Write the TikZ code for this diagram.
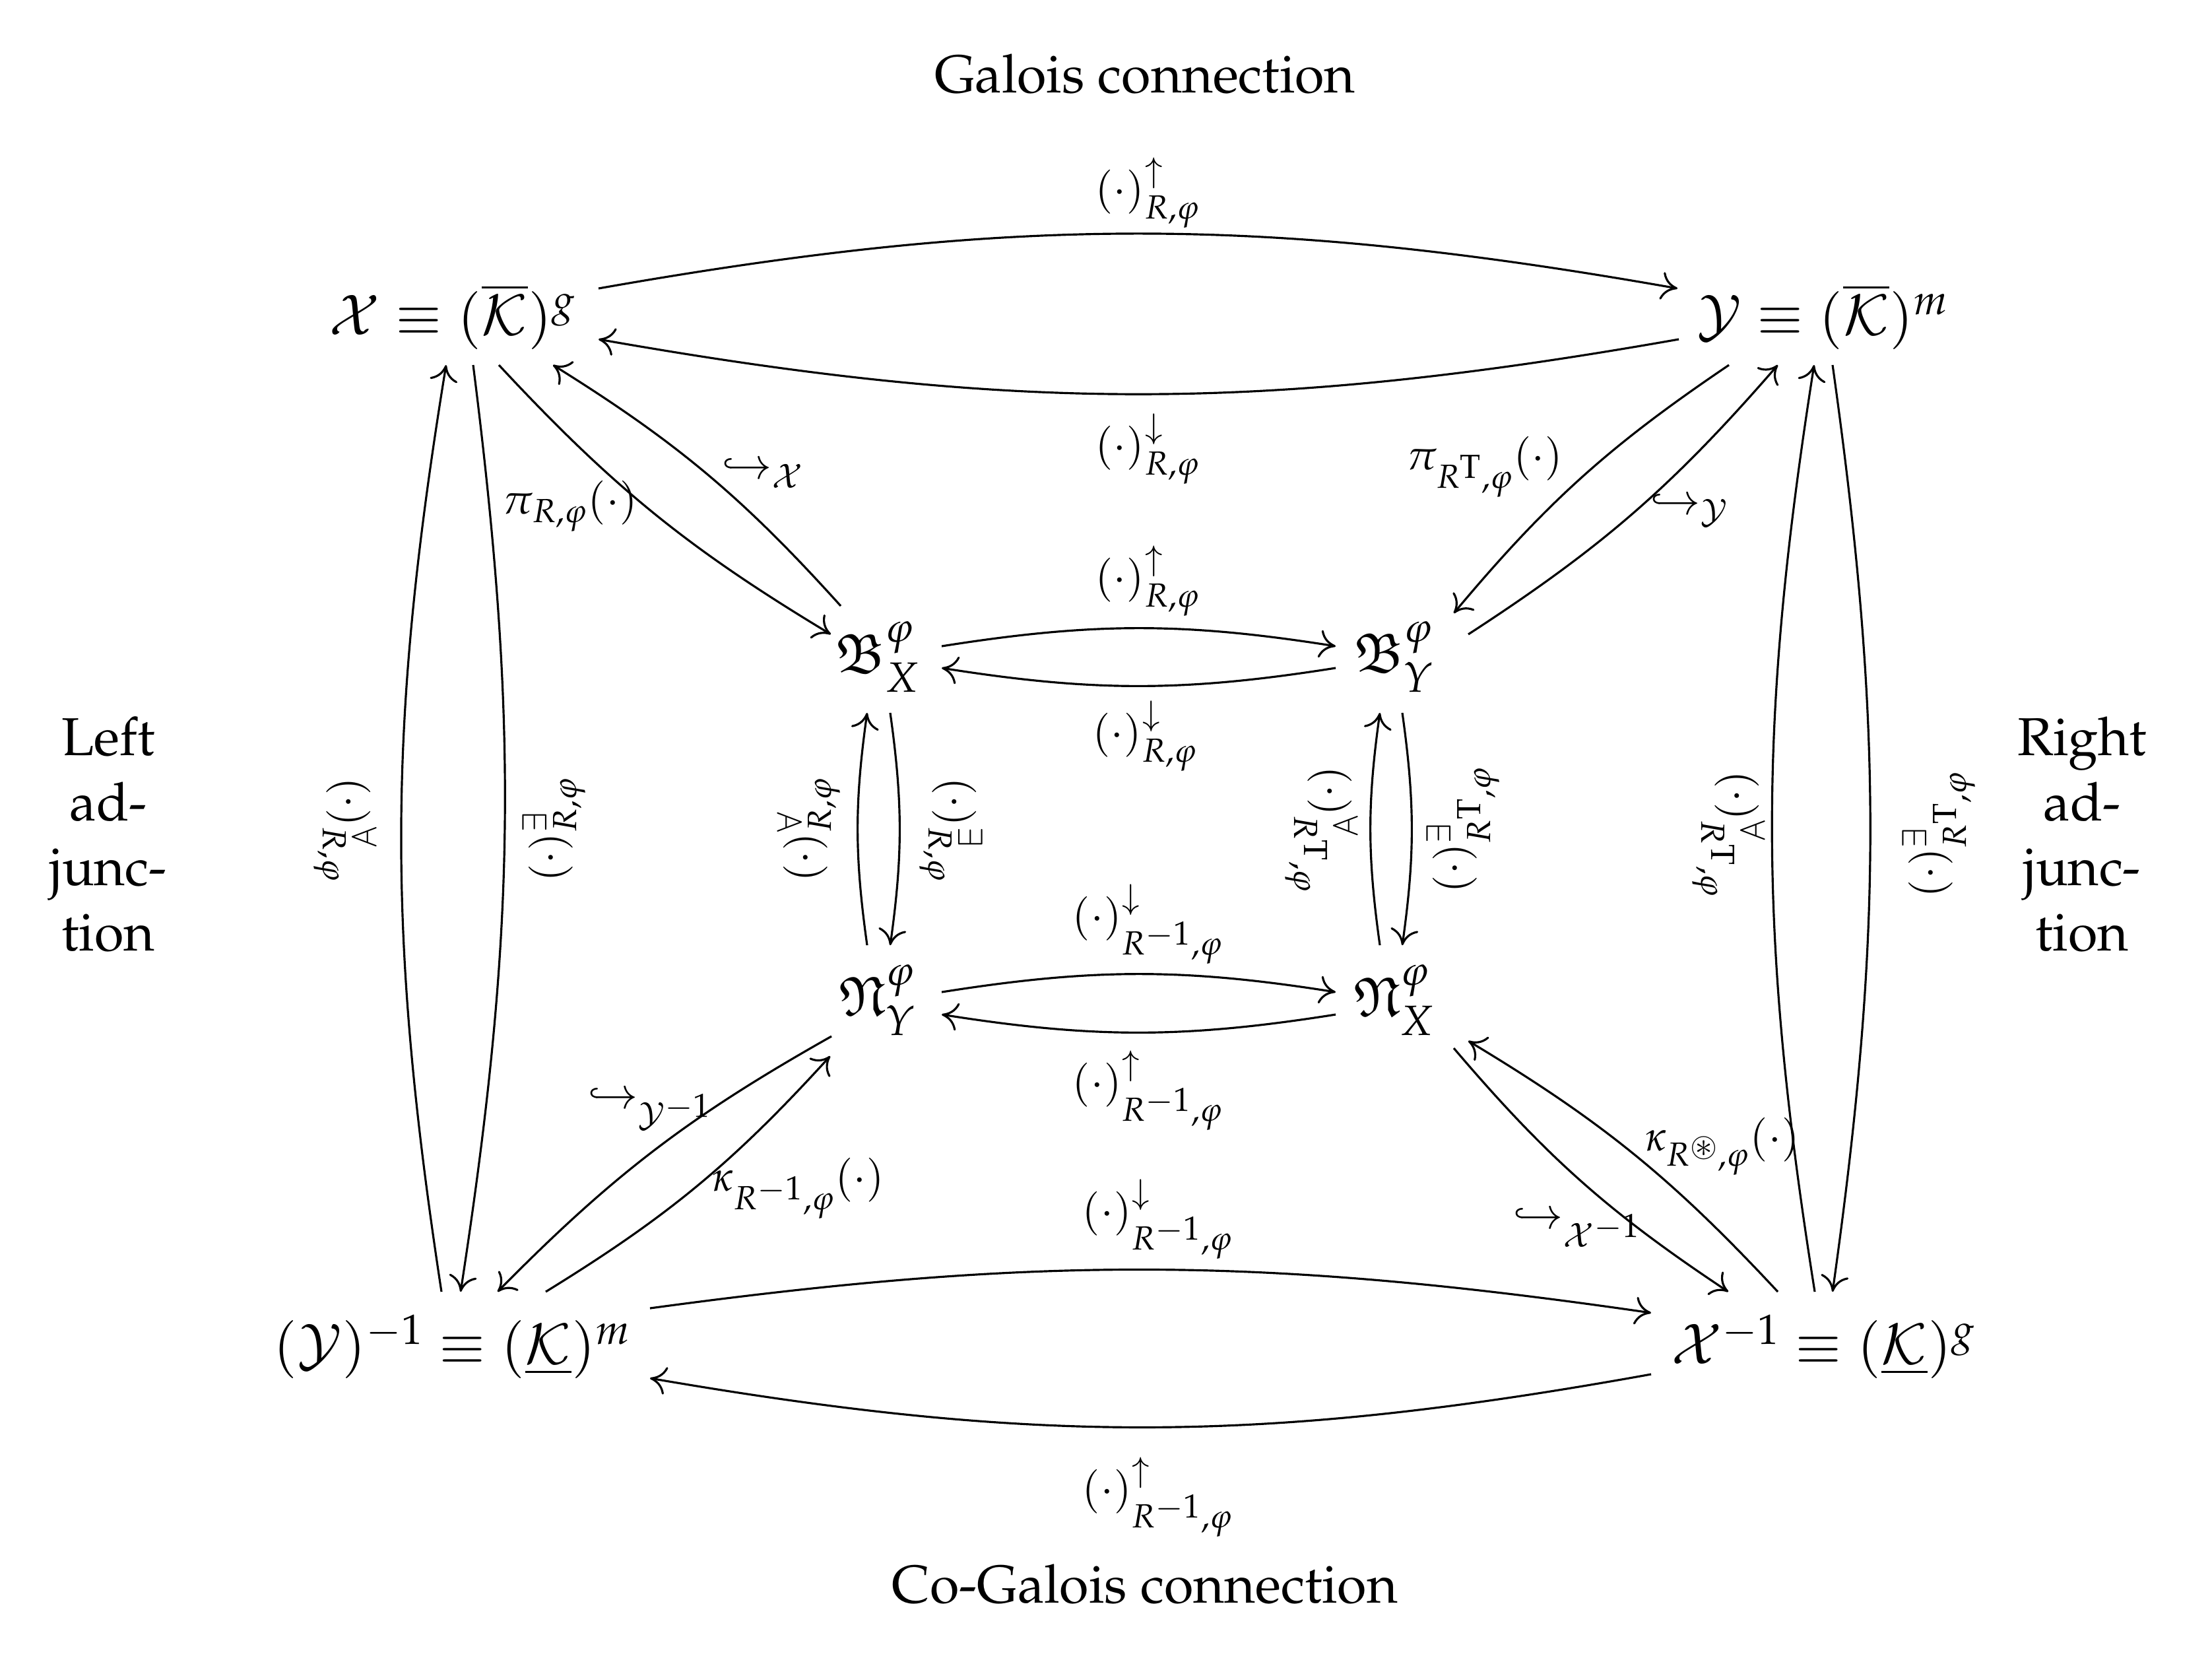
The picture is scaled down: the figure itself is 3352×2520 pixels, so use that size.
\documentclass[tikz,border=0pt]{standalone}
\usepackage[T1]{fontenc}
\usepackage{mathpazo}
\usepackage{amssymb}
\usetikzlibrary{arrows.meta}
\begin{document}
\begin{tikzpicture}[x=0.01cm,y=-0.01cm,
  every node/.style={font=\fontsize{24}{29}\selectfont, inner sep=0pt},
  obj/.style={},
  lbl/.style={},
  ttl/.style={font=\fontsize{23}{28}\selectfont, align=center},
  arr/.style={-{To[length=7pt,width=12pt]}, line width=0.9pt},
]
\useasboundingbox (0,0) rectangle (3352,2520);
% objects
\node[obj] (X) at (686,480) {$\mathcal{X}\equiv(\overline{\mathcal{K}})^{g}$};
\node[obj] (Y) at (2762,480) {$\mathcal{Y}\equiv(\overline{\mathcal{K}})^{m}$};
\node[obj] (BL) at (685,2040) {$(\mathcal{Y})^{-1}\equiv(\underline{\mathcal{K}})^{m}$};
\node[obj] (BR) at (2763,2040) {$\mathcal{X}^{-1}\equiv(\underline{\mathcal{K}})^{g}$};
\node[obj] (BX) at (1330,995) {$\mathfrak{B}_X^{\varphi}$};
\node[obj] (BY) at (2113,995) {$\mathfrak{B}_Y^{\varphi}$};
\node[obj] (NY) at (1330,1515) {$\mathfrak{N}_Y^{\varphi}$};
\node[obj] (NX) at (2113,1515) {$\mathfrak{N}_X^{\varphi}$};
% titles
\node[ttl] (t1) at (1735,112) {Galois connection};
\node[ttl] (t2) at (1735,2400) {Co-Galois connection};
\node[ttl] (t3) at (164,1264) {Left\\ad-\\junc-\\tion};
\node[ttl] (t4) at (3155,1264) {Right\\ad-\\junc-\\tion};
% top pair
\draw[arr] ([shift={(221,-43)}]X.center) to[bend left=10] ([shift={(-220,-43)}]Y.center);
\draw[arr] ([shift={(-218,34)}]Y.center) to[bend left=10] ([shift={(221,34)}]X.center);
% bottom pair
\draw[arr] ([shift={(300,-58)}]BL.center) to[bend left=8] ([shift={(-261,-51)}]BR.center);
\draw[arr] ([shift={(-261,42)}]BR.center) to[bend left=10] ([shift={(300,48)}]BL.center);
% outer left verticals
\draw[arr] ([shift={(-16,-83)}]BL.center) to[bend left=9] ([shift={(-10,73)}]X.center);
\draw[arr] ([shift={(31,73)}]X.center) to[bend left=8] ([shift={(13,-83)}]BL.center);
% outer right verticals
\draw[arr] ([shift={(-13,-83)}]BR.center) to[bend left=9] ([shift={(-13,73)}]Y.center);
\draw[arr] ([shift={(15,73)}]Y.center) to[bend left=8] ([shift={(14,-83)}]BR.center);
% inner horizontals
\draw[arr] ([shift={(97,-16)}]BX.center) to[bend left=9] ([shift={(-89,-16)}]BY.center);
\draw[arr] ([shift={(-89,17)}]BY.center) to[bend left=9] ([shift={(97,17)}]BX.center);
\draw[arr] ([shift={(97,-12)}]NY.center) to[bend left=9] ([shift={(-89,-12)}]NX.center);
\draw[arr] ([shift={(-89,22)}]NX.center) to[bend left=9] ([shift={(97,22)}]NY.center);
% inner verticals
\draw[arr] ([shift={(-16,-83)}]NY.center) to[bend left=8] ([shift={(-16,85)}]BX.center);
\draw[arr] ([shift={(19,85)}]BX.center) to[bend left=8] ([shift={(19,-83)}]NY.center);
\draw[arr] ([shift={(-22,-83)}]NX.center) to[bend left=8] ([shift={(-22,85)}]BY.center);
\draw[arr] ([shift={(12,85)}]BY.center) to[bend left=8] ([shift={(12,-83)}]NX.center);
% diagonals
\draw[arr] ([shift={(70,73)}]X.center) to[bend right=8] ([shift={(-71,-34)}]BX.center);
\draw[arr] ([shift={(-56,-77)}]BX.center) to[bend right=8] ([shift={(152,73)}]X.center);
\draw[arr] ([shift={(-142,73)}]Y.center) to[bend right=8] ([shift={(90,-66)}]BY.center);
\draw[arr] ([shift={(112,-34)}]BY.center) to[bend right=8] ([shift={(-68,73)}]Y.center);
\draw[arr] ([shift={(-70,55)}]NY.center) to[bend right=8] ([shift={(69,-83)}]BL.center);
\draw[arr] ([shift={(142,-83)}]BL.center) to[bend right=8] ([shift={(-72,85)}]NY.center);
\draw[arr] ([shift={(90,73)}]NX.center) to[bend right=8] ([shift={(-144,-83)}]BR.center);
\draw[arr] ([shift={(-69,-83)}]BR.center) to[bend right=8] ([shift={(112,62)}]NX.center);
% labels
\node[lbl] (l1) at (1739,292) {$\scriptstyle(\cdot)^{\uparrow}_{R,\varphi}$};
\node[lbl] (l2) at (1739,680) {$\scriptstyle(\cdot)^{\downarrow}_{R,\varphi}$};
\node[lbl] (l3) at (864,767) {$\scriptstyle\pi_{R,\varphi}(\cdot)$};
\node[lbl] (l4) at (1156,717) {$\scriptstyle\hookrightarrow_{\mathcal{X}}$};
\node[lbl] (l5) at (2250,707) {$\scriptstyle\pi_{R^{\mathrm{T}},\varphi}(\cdot)$};
\node[lbl] (l6) at (2560,773) {$\scriptstyle\hookrightarrow_{\mathcal{Y}}$};
\node[lbl] (l7) at (1739,880) {$\scriptstyle(\cdot)^{\uparrow}_{R,\varphi}$};
\node[lbl] (l8) at (1735,1115) {$\scriptstyle(\cdot)^{\downarrow}_{R,\varphi}$};
\node[lbl,rotate=90] (l9) at (1226,1257) {$\scriptstyle(\cdot)^{\forall}_{R,\varphi}$};
\node[lbl,rotate=-90] (l10) at (1441,1257) {$\scriptstyle(\cdot)^{\exists}_{R,\varphi}$};
\node[lbl,rotate=-90] (l11) at (2003,1257) {$\scriptstyle(\cdot)^{\forall}_{R^{\mathrm{T}},\varphi}$};
\node[lbl,rotate=90] (l12) at (2217,1257) {$\scriptstyle(\cdot)^{\exists}_{R^{\mathrm{T}},\varphi}$};
\node[lbl,rotate=-90] (l13) at (523,1257) {$\scriptstyle(\cdot)^{\forall}_{R,\varphi}$};
\node[lbl,rotate=90] (l14) at (840,1257) {$\scriptstyle(\cdot)^{\exists}_{R,\varphi}$};
\node[lbl,rotate=-90] (l15) at (2620,1264) {$\scriptstyle(\cdot)^{\forall}_{R^{\mathrm{T}},\varphi}$};
\node[lbl,rotate=90] (l16) at (2938,1264) {$\scriptstyle(\cdot)^{\exists}_{R^{\mathrm{T}},\varphi}$};
\node[lbl] (l17) at (1739,1400) {$\scriptstyle(\cdot)^{\downarrow}_{R^{-1},\varphi}$};
\node[lbl] (l18) at (1739,1652) {$\scriptstyle(\cdot)^{\uparrow}_{R^{-1},\varphi}$};
\node[lbl] (l19) at (985,1680) {$\scriptstyle\hookrightarrow_{\mathcal{Y}^{-1}}$};
\node[lbl] (l20) at (1210,1800) {$\scriptstyle\kappa_{R^{-1},\varphi}(\cdot)$};
\node[lbl] (l21) at (2390,1860) {$\scriptstyle\hookrightarrow_{\mathcal{X}^{-1}}$};
\node[lbl] (l22) at (2610,1737) {$\scriptstyle\kappa_{R^{\circledast},\varphi}(\cdot)$};
\node[lbl] (l23) at (1754,1847) {$\scriptstyle(\cdot)^{\downarrow}_{R^{-1},\varphi}$};
\node[lbl] (l24) at (1754,2268) {$\scriptstyle(\cdot)^{\uparrow}_{R^{-1},\varphi}$};
\end{tikzpicture}
\end{document}
